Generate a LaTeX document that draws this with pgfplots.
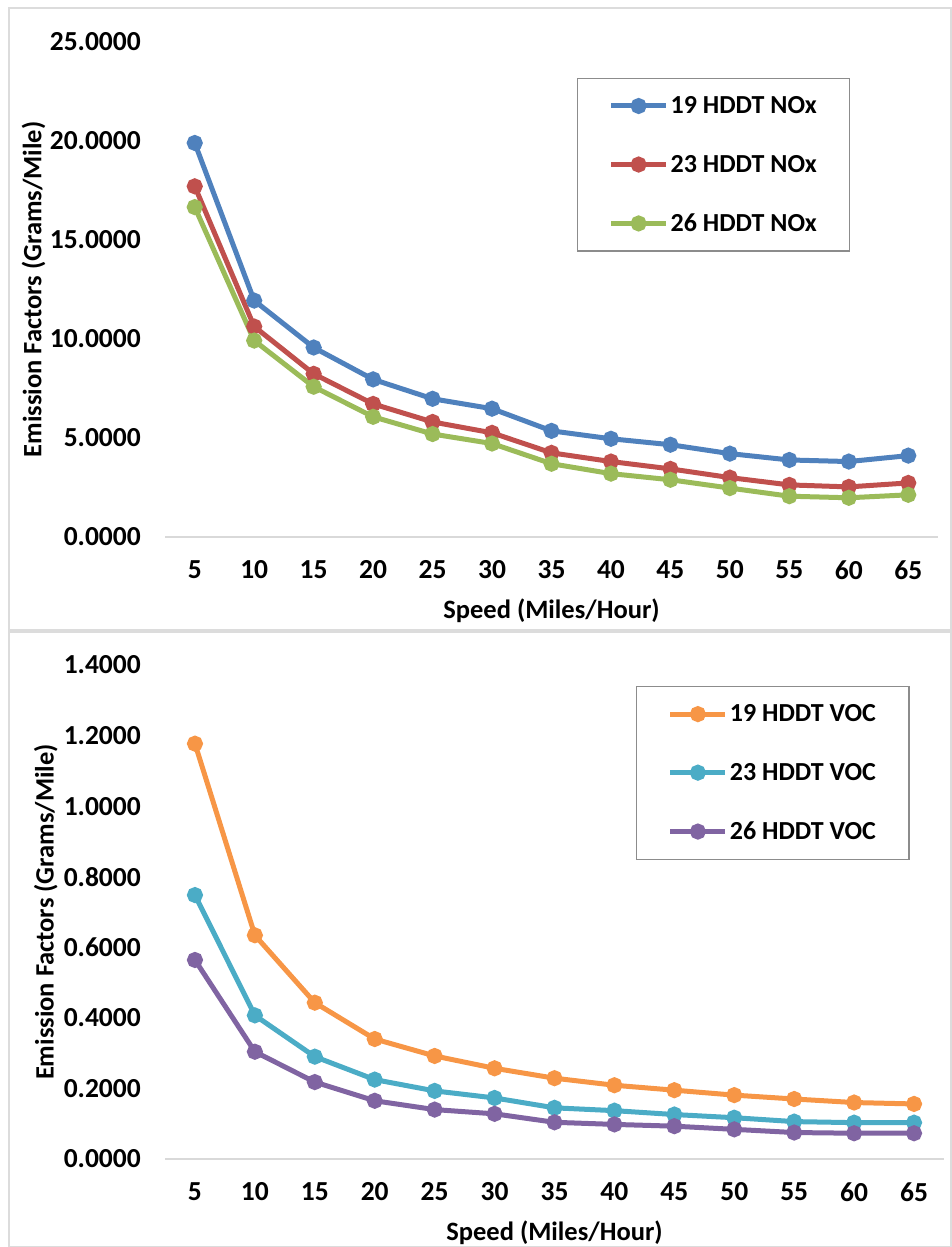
\documentclass[border=0pt]{standalone}
\usepackage{fontspec}
\setmainfont{Carlito}
\usepackage{pgfplots}
\pgfplotsset{compat=1.18}

\definecolor{nox19}{HTML}{4F81BD}
\definecolor{nox23}{HTML}{C0504D}
\definecolor{nox26}{HTML}{9BBB59}
\definecolor{voc19}{HTML}{F79646}
\definecolor{voc23}{HTML}{4BACC6}
\definecolor{voc26}{HTML}{8064A2}
\definecolor{axisgray}{HTML}{D9D9D9}
\definecolor{framegray}{HTML}{DCDCDC}
\definecolor{legendgray}{HTML}{8C8C8C}

\newcommand{\tickfont}{\fontsize{27.5}{32}\selectfont\bfseries}
\newcommand{\labelfont}{\fontsize{26.5}{31}\selectfont\bfseries}
\newcommand{\legfont}{\fontsize{26}{31}\selectfont\bfseries}

\pgfplotsset{
  emis/.style={
    scale only axis, clip=false,
    axis x line*=bottom, axis y line*=left,
    y axis line style={draw=none},
    x axis line style={draw=axisgray, line width=1.5pt},
    major tick length=0pt,
    xmin=2.5, xmax=67.5,
    xtick={5,10,15,20,25,30,35,40,45,50,55,60,65},
    /pgf/number format/assume math mode=true,
    tick label style={font=\tickfont},
    xticklabel style={anchor=center, yshift=-33pt},
    yticklabel style={anchor=east, inner sep=0pt, xshift=-24pt,
      /pgf/number format/fixed, /pgf/number format/fixed zerofill,
      /pgf/number format/precision=4},
    scaled y ticks=false,
    label style={font=\labelfont},
    xlabel={Speed (Miles/Hour)},
    ylabel={Emission Factors (Grams/Mile)},
    x label style={at={(axis description cs:0.5,0)}, anchor=center, yshift=-74pt},
    legend cell align=left,
    legend image code/.code={
      \draw[mark repeat=2, mark phase=2] plot coordinates {(0pt,0pt) (27.5pt,0pt) (55pt,0pt)};},
    legend style={anchor=north west, draw=legendgray, line width=1.2pt,
      font=\legfont, inner xsep=31pt, inner ysep=16pt, row sep=36pt},
  },
  ser/.style={color=#1, line width=5pt, mark=*, mark size=5.5pt,
    mark options={solid, fill=#1}},
}

\begin{document}
\begin{tikzpicture}
\path[use as bounding box] (0pt,0pt) rectangle (952pt,1247pt);
\draw[framegray, line width=1.2pt] (9pt,617pt) rectangle (951pt,1239pt);
\draw[framegray, line width=1.2pt] (9pt,0pt) rectangle (951pt,615pt);

% NOx panel
\begin{axis}[emis,
  at={(165pt,710pt)}, anchor=south west,
  width=773pt, height=495pt,
  ymin=0, ymax=25, ytick={0,5,10,15,20,25},
  y label style={at={(axis description cs:-0.17,0.5)}, anchor=center},
  legend style={at={(axis description cs:0.533,0.927)}},
]
\addplot[ser=nox19] coordinates {
  (5,19.90) (10,11.94) (15,9.57) (20,7.96) (25,6.98) (30,6.48) (35,5.36)
  (40,4.96) (45,4.66) (50,4.21) (55,3.89) (60,3.81) (65,4.11)};
\addlegendentry{19 HDDT NOx}
\addplot[ser=nox23] coordinates {
  (5,17.71) (10,10.63) (15,8.24) (20,6.72) (25,5.81) (30,5.26) (35,4.25)
  (40,3.81) (45,3.44) (50,3.00) (55,2.63) (60,2.53) (65,2.73)};
\addlegendentry{23 HDDT NOx}
\addplot[ser=nox26] coordinates {
  (5,16.66) (10,9.92) (15,7.59) (20,6.07) (25,5.20) (30,4.72) (35,3.70)
  (40,3.20) (45,2.89) (50,2.47) (55,2.06) (60,1.98) (65,2.13)};
\addlegendentry{26 HDDT NOx}
\end{axis}

% VOC panel
\begin{axis}[emis,
  at={(165pt,88pt)}, anchor=south west,
  width=779pt, height=494pt,
  ymin=0, ymax=1.4, ytick={0,0.2,0.4,0.6,0.8,1.0,1.2,1.4},
  y label style={at={(axis description cs:-0.153,0.5)}, anchor=center},
  legend style={at={(axis description cs:0.605,0.957)}},
]
\addplot[ser=voc19] coordinates {
  (5,1.177) (10,0.634) (15,0.443) (20,0.340) (25,0.292) (30,0.257) (35,0.229)
  (40,0.209) (45,0.195) (50,0.181) (55,0.170) (60,0.160) (65,0.156)};
\addlegendentry{19 HDDT VOC}
\addplot[ser=voc23] coordinates {
  (5,0.748) (10,0.407) (15,0.290) (20,0.225) (25,0.193) (30,0.173) (35,0.145)
  (40,0.137) (45,0.126) (50,0.117) (55,0.106) (60,0.103) (65,0.103)};
\addlegendentry{23 HDDT VOC}
\addplot[ser=voc26] coordinates {
  (5,0.564) (10,0.304) (15,0.218) (20,0.165) (25,0.140) (30,0.128) (35,0.104)
  (40,0.098) (45,0.093) (50,0.084) (55,0.075) (60,0.073) (65,0.073)};
\addlegendentry{26 HDDT VOC}
\end{axis}
\end{tikzpicture}
\end{document}
